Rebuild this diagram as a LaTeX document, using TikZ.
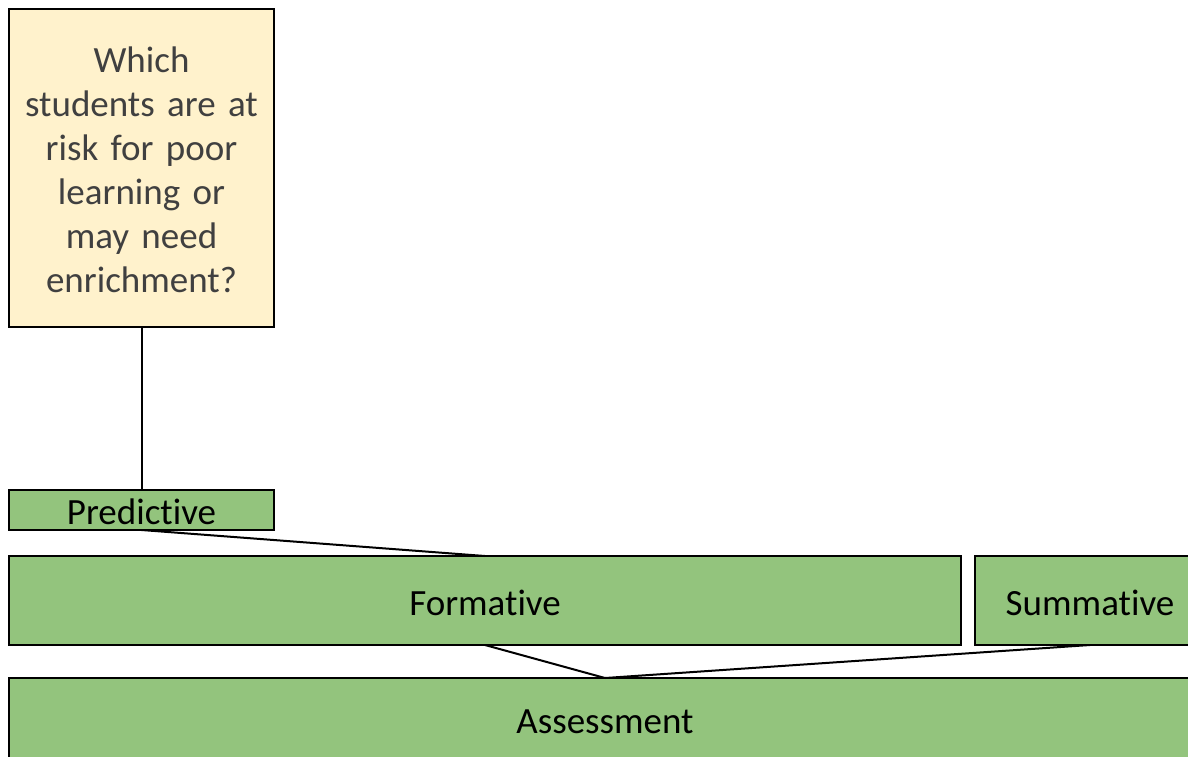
\documentclass[tikz,border=0pt]{standalone}
\usepackage{fontspec}
\setmainfont[Ligatures=NoCommon]{Carlito}
\definecolor{boxgreen}{HTML}{93C47D}
\definecolor{notefill}{HTML}{FFF2CC}
\definecolor{notetext}{HTML}{404040}
\begin{document}
\begin{tikzpicture}[x=1pt,y=-1pt,
  greenbox/.style={draw=black, line width=2pt, fill=boxgreen},
  notebox/.style={draw=black, line width=2pt, fill=notefill},
  label/.style={font=\fontsize{37}{44}\selectfont, inner sep=0pt},
  link/.style={draw=black, line width=2pt}]
\useasboundingbox (0,0) rectangle (1188,756);
\clip (0,0) rectangle (1188,756);
% boxes
\draw[notebox] (9,9) rectangle (274,327);
\node[label, text=notetext, align=center, text width=260pt] (q) at (141.5,170)
  {Which\\students are at\\risk for poor\\learning or\\may need\\enrichment?};
\draw[greenbox] (9,490) rectangle (274,530);
\node[label] (pred) at (141.5,512) {Predictive};
\draw[greenbox] (9,556) rectangle (961,645);
\node[label] (form) at (485,603) {Formative};
\draw[greenbox] (975,556) rectangle (1205,645);
\node[label] (summ) at (1090,603) {Summative};
\draw[greenbox] (9,678) rectangle (1201,790);
\node[label] (assess) at (605,722) {Assessment};
% attachment points on the box edges
\coordinate (qb) at (141.5,327);
\coordinate (pt) at (141.5,490);
\coordinate (pb) at (141.5,530);
\coordinate (ft) at (485,556);
\coordinate (fb) at (485,645);
\coordinate (sb) at (1090,645);
\coordinate (at) at (605,678);
% connectors
\draw[link] (qb) -- (pt);
\draw[link] (pb) -- (ft);
\draw[link] (fb) -- (at);
\draw[link] (sb) -- (at);
\end{tikzpicture}
\end{document}
